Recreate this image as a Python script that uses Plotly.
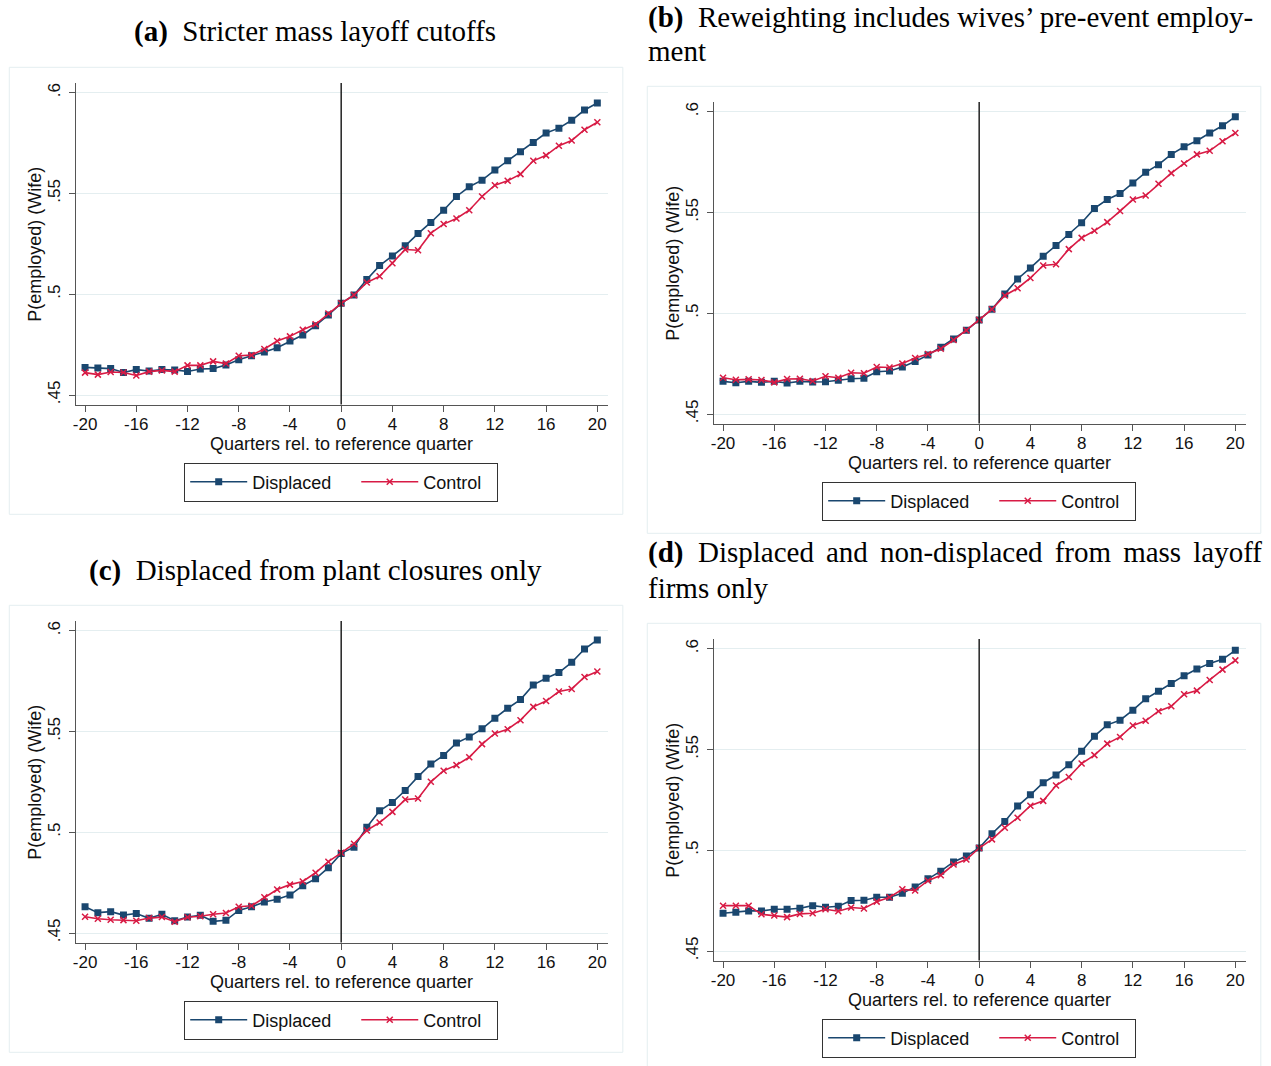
import plotly.graph_objects as go

# quarters relative to reference quarter
quarters = list(range(-20, 21))
xtick_vals = list(range(-20, 21, 4))
xtick_text = [str(v) for v in xtick_vals]
ytick_vals = [0.45, 0.5, 0.55, 0.6]
ytick_text = [".45", ".5", ".55", ".6"]

# (a) Stricter mass layoff cutoffs
displaced_a = [0.4637, 0.4634, 0.4631, 0.4612, 0.4626, 0.4619, 0.4626, 0.4624, 0.4617, 0.4629,
               0.4631, 0.4649, 0.4675, 0.4695, 0.4713, 0.4735, 0.4768, 0.4798, 0.4844, 0.4897,
               0.4955, 0.4996, 0.5073, 0.5142, 0.5190, 0.5240, 0.5301, 0.5356, 0.5417, 0.5485,
               0.5533, 0.5566, 0.5616, 0.5662, 0.5707, 0.5753, 0.5800, 0.5824, 0.5863, 0.5914, 0.5949]
control_a = [0.4611, 0.4601, 0.4614, 0.4612, 0.4597, 0.4616, 0.4622, 0.4616, 0.4647, 0.4647,
             0.4667, 0.4656, 0.4695, 0.4698, 0.4728, 0.4768, 0.4791, 0.4824, 0.4851, 0.4904,
             0.4955, 0.4996, 0.5058, 0.5089, 0.5154, 0.5222, 0.5218, 0.5303, 0.5348, 0.5376,
             0.5417, 0.5485, 0.5541, 0.5563, 0.5596, 0.5662, 0.5689, 0.5737, 0.5763, 0.5816, 0.5853]

# (b) Reweighting includes wives' pre-event employment
displaced_b = [0.4662, 0.4655, 0.4662, 0.4657, 0.4662, 0.4654, 0.4662, 0.4659, 0.4660, 0.4667,
               0.4675, 0.4677, 0.4710, 0.4713, 0.4733, 0.4760, 0.4793, 0.4831, 0.4872, 0.4915,
               0.4967, 0.5020, 0.5096, 0.5170, 0.5225, 0.5283, 0.5336, 0.5391, 0.5449, 0.5520,
               0.5564, 0.5594, 0.5646, 0.5699, 0.5737, 0.5788, 0.5826, 0.5856, 0.5894, 0.5930, 0.5975]
control_b = [0.4680, 0.4670, 0.4672, 0.4669, 0.4657, 0.4674, 0.4675, 0.4664, 0.4687, 0.4680,
             0.4705, 0.4702, 0.4733, 0.4731, 0.4751, 0.4778, 0.4798, 0.4824, 0.4867, 0.4915,
             0.4967, 0.5020, 0.5088, 0.5124, 0.5175, 0.5237, 0.5243, 0.5318, 0.5374, 0.5409,
             0.5452, 0.5507, 0.5564, 0.5584, 0.5642, 0.5695, 0.5743, 0.5788, 0.5806, 0.5853, 0.5894]

# (c) Displaced from plant closures only
displaced_c = [0.4630, 0.4601, 0.4606, 0.4589, 0.4597, 0.4573, 0.4593, 0.4561, 0.4579, 0.4588,
               0.4558, 0.4563, 0.4612, 0.4630, 0.4654, 0.4667, 0.4688, 0.4735, 0.4769, 0.4824,
               0.4895, 0.4926, 0.5025, 0.5106, 0.5148, 0.5207, 0.5276, 0.5338, 0.5381, 0.5443,
               0.5473, 0.5513, 0.5566, 0.5615, 0.5658, 0.5731, 0.5764, 0.5792, 0.5843, 0.5909, 0.5954]
control_c = [0.4581, 0.4571, 0.4566, 0.4564, 0.4561, 0.4574, 0.4579, 0.4556, 0.4578, 0.4583,
             0.4593, 0.4599, 0.4630, 0.4635, 0.4677, 0.4716, 0.4740, 0.4756, 0.4799, 0.4854,
             0.4898, 0.4943, 0.5009, 0.5048, 0.5101, 0.5162, 0.5167, 0.5250, 0.5305, 0.5333,
             0.5372, 0.5437, 0.5490, 0.5511, 0.5556, 0.5622, 0.5651, 0.5698, 0.5711, 0.5770, 0.5797]

# (d) Displaced and non-displaced from mass layoff firms only
displaced_d = [0.4687, 0.4692, 0.4699, 0.4699, 0.4707, 0.4707, 0.4712, 0.4725, 0.4717, 0.4722,
               0.4750, 0.4752, 0.4767, 0.4767, 0.4787, 0.4818, 0.4859, 0.4896, 0.4942, 0.4971,
               0.5011, 0.5082, 0.5143, 0.5219, 0.5275, 0.5335, 0.5373, 0.5424, 0.5491, 0.5566,
               0.5622, 0.5645, 0.5695, 0.5751, 0.5789, 0.5827, 0.5866, 0.5899, 0.5927, 0.5947, 0.5992]
control_d = [0.4725, 0.4725, 0.4725, 0.4682, 0.4676, 0.4668, 0.4684, 0.4687, 0.4707, 0.4697,
             0.4716, 0.4711, 0.4745, 0.4767, 0.4806, 0.4800, 0.4849, 0.4876, 0.4929, 0.4954,
             0.5011, 0.5054, 0.5112, 0.5161, 0.5221, 0.5245, 0.5321, 0.5363, 0.5430, 0.5472,
             0.5529, 0.5562, 0.5619, 0.5642, 0.5690, 0.5714, 0.5774, 0.5792, 0.5845, 0.5896, 0.5942]

W, H = 1271, 1066
NAVY = "#1a476f"
RED = "#d81b45"
GRID = "#e4eef0"
SANS = "Liberation Sans, Arial, sans-serif"
SERIF = "Liberation Serif, Times New Roman, serif"


def px(x):
    return x / W


def py(y):
    return 1 - y / H


# panel (a) geometry in pixels, the others are offsets of it
PL, PT, PW, PH = 73, 83, 533, 321.5
BOX = (6.3, 67.3, 621.3, 514.3)
sp = "\u2006"
nb = "\u00a0"
panels = [
    dict(data=(displaced_a, control_a), dx=0, dy=0,
         title=[("<b>(a)</b>  Stricter mass layoff cutoffs", 313, 32, "center")]),
    dict(data=(displaced_b, control_b), dx=639.5, dy=19,
         title=[("<b>(b)</b>  Reweighting includes wives’ pre-event employ-", 645, 17, "left"),
                ("ment", 645, 51, "left")]),
    dict(data=(displaced_c, control_c), dx=0, dy=538,
         title=[("<b>(c)</b>  Displaced from plant closures only", 313, 570, "center")]),
    dict(data=(displaced_d, control_d), dx=639.5, dy=556,
         title=[("<b>(d)</b>  Displaced " + sp + "and " + sp + "non-displaced " + sp + "from "
                 + sp + "mass " + sp + "layoff", 645, 552, "left"),
                ("firms only", 645, 588, "left")]),
]

fig = go.Figure()
annotations = []
shapes = []
layout = {}

for i, p in enumerate(panels):
    n = "" if i == 0 else str(i + 1)
    xa, ya = "x" + n, "y" + n
    leg = "legend" + n
    disp, ctrl = p["data"]
    fig.add_trace(go.Scatter(x=quarters, y=disp, mode="lines+markers", name="Displaced" + nb * 4,
                             xaxis=xa, yaxis=ya, legend=leg,
                             line=dict(color=NAVY, width=1.6),
                             marker=dict(symbol="square", size=7, color=NAVY)))
    fig.add_trace(go.Scatter(x=quarters, y=ctrl, mode="lines+markers", name="Control" + nb * 2,
                             xaxis=xa, yaxis=ya, legend=leg,
                             line=dict(color=RED, width=1.6),
                             marker=dict(symbol="x-thin", size=6, color=RED,
                                         line=dict(color=RED, width=1.5))))
    l, t = PL + p["dx"], PT + p["dy"]
    layout["xaxis" + n] = dict(
        domain=[px(l), px(l + PW)], anchor=ya, range=[-20.72, 20.80],
        tickvals=xtick_vals, ticktext=xtick_text, ticks="outside", ticklen=6,
        tickcolor="#555", showline=True, linecolor="#555", linewidth=1,
        showgrid=False, zeroline=False, ticklabelstandoff=-2,
        tickfont=dict(family=SANS, size=17, color="#111"))
    layout["yaxis" + n] = dict(
        domain=[py(t + PH), py(t)], anchor=xa, range=[0.44529, 0.6048],
        tickvals=ytick_vals, ticktext=ytick_text, ticks="outside", ticklen=6,
        tickcolor="#555", showline=True, linecolor="#555", linewidth=1,
        showgrid=True, gridcolor=GRID, gridwidth=1, zeroline=False, tickangle=-90,
        ticklabelstandoff=2, tickfont=dict(family=SANS, size=17, color="#111"))
    layout[leg] = dict(
        x=px(l + 266), y=py(t + PH + 58), xanchor="center", yanchor="top",
        orientation="h", bordercolor="#333", borderwidth=1, bgcolor="white",
        font=dict(family=SANS, size=18, color="#111"), itemwidth=57)
    # reference quarter line
    shapes.append(dict(type="line", xref=xa, yref=ya + " domain", x0=0, x1=0, y0=0, y1=1,
                       line=dict(color="#222", width=1.5)))
    # outer graph box
    bx0, by0, bx1, by1 = BOX
    shapes.append(dict(type="rect", xref="paper", yref="paper",
                       x0=px(bx0 + p["dx"]), x1=px(bx1 + p["dx"]),
                       y0=py(by1 + p["dy"]), y1=py(by0 + p["dy"]),
                       line=dict(color=GRID, width=1), layer="below"))
    annotations.append(dict(text="Quarters rel. to reference quarter", xref="paper", yref="paper",
                            x=px(l + 266), y=py(t + PH + 39), showarrow=False,
                            xanchor="center", yanchor="middle",
                            font=dict(family=SANS, size=18, color="#111")))
    annotations.append(dict(text="P(employed) (Wife)", xref="paper", yref="paper",
                            x=px(l - 41), y=py(t + PH / 2), showarrow=False, textangle=-90,
                            xanchor="center", yanchor="middle",
                            font=dict(family=SANS, size=18, color="#111")))
    for txt, tx, ty, al in p["title"]:
        annotations.append(dict(text=txt, xref="paper", yref="paper", x=px(tx), y=py(ty),
                                showarrow=False, xanchor=al, yanchor="middle",
                                font=dict(family=SERIF, size=29, color="#000")))

fig.update_layout(width=W, height=H, autosize=False, margin=dict(l=0, r=0, t=0, b=0),
                  paper_bgcolor="white", plot_bgcolor="white",
                  annotations=annotations, shapes=shapes, **layout)

# drop the browser's default 8px page margin so the figure fills the window
fig.write_html("out.html", config={"displayModeBar": False},
               post_script="document.body.style.margin='0';")
